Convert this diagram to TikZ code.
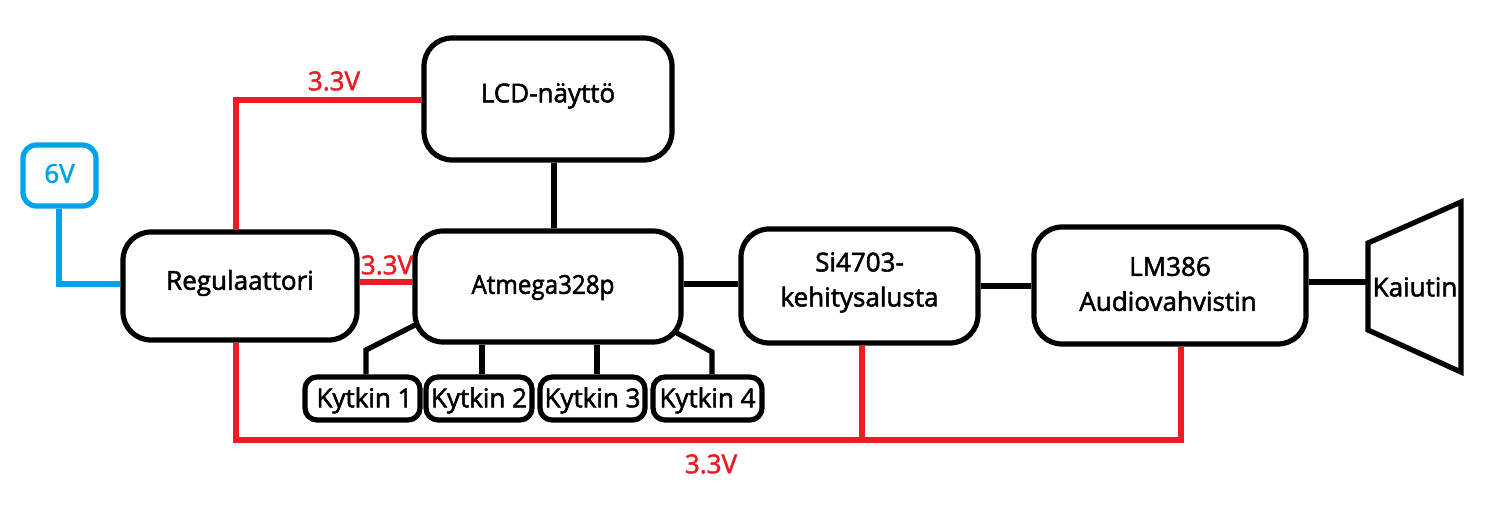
\documentclass[tikz,border=0pt]{standalone}
\usepackage{fontspec}
\setmainfont[FakeBold=2]{Open Sans}
\newcommand{\up}[2]{\raisebox{#1pt}[\height][\depth]{#2}}
\tikzset{
  x=0.75pt,y=-0.75pt,
  wire/.style={line width=3.9pt,line join=miter},
  redwire/.style={wire,draw=myred},
  bluewire/.style={wire,draw=myblue},
  blackwire/.style={wire,draw=black},
  blockbox/.style={draw=black,line width=3.9pt,rounded corners=21pt,inner sep=0pt,align=center,font=\fontsize{19.5}{27}\selectfont,minimum width=#1},
  lbl/.style={inner sep=0pt,font=\fontsize{19.5}{22}\selectfont},
}
\definecolor{myred}{HTML}{ED1C24}
\definecolor{myblue}{HTML}{00A2E8}
\begin{document}
\begin{tikzpicture}
\useasboundingbox (0,0) rectangle (1496,510);
\node[blockbox=186.0pt,minimum height=91.5pt] (lcd) at (548,99) {\up{2.25}{LCD-näyttö}};
\node[blockbox=175.5pt,minimum height=81pt] (reg) at (240,286) {\up{2.25}{Regulaattori}};
\node[blockbox=199.5pt,minimum height=83.25pt] (atm) at (548,286.5) {\up{-0.75}{\hspace{-7.5pt}\scalebox{0.93}[1]{Atmega328p}}};
\node[blockbox=177.75pt,minimum height=85.5pt] (si) at (859.5,286) {\up{2.25}{Si4703-}\\\up{3}{kehitysalusta}};
\node[blockbox=204pt,minimum height=87.75pt] (lm) at (1170,285.5) {\up{0.75}{LM386}\\\up{1.5}{\hspace{-3pt}Audiovahvistin}};
\node[blockbox=54.75pt,minimum height=45.75pt,draw=myblue,text=myblue,rounded corners=10pt] (six) at (59.5,175.5) {\up{1.5}{6V}};
\node[blockbox=86.25pt,minimum height=32.25pt,rounded corners=9pt] (k1) at (362.5,398.5) {\up{-1.5}{\hspace{3pt}Kytkin 1}};
\node[blockbox=79.5pt,minimum height=32.25pt,rounded corners=9pt] (k2) at (479,398.5) {\up{-1.5}{Kytkin 2}};
\node[blockbox=78.75pt,minimum height=32.25pt,rounded corners=9pt] (k3) at (592.5,398.5) {\up{-1.5}{Kytkin 3}};
\node[blockbox=81.75pt,minimum height=32.25pt,rounded corners=9pt] (k4) at (707.5,398.5) {\up{-1.5}{Kytkin 4}};
\coordinate (sp1) at (1368,243);
\coordinate (sp2) at (1461,202);
\coordinate (sp3) at (1461,372);
\coordinate (sp4) at (1368,330);
\draw[blackwire] (sp1) -- (sp2) -- (sp3) -- (sp4) -- cycle;
\node[lbl] (kai) at (1415,287) {Kaiutin};
\node[lbl,text=myred] (l1) at (334,81) {3.3V};
\node[lbl,text=myred] (l2) at (387,265) {3.3V};
\node[lbl,text=myred] (l3) at (711,464) {3.3V};
\coordinate (bl) at (236,440);
\coordinate (tl) at (236,100);
\coordinate (bm) at (862,440);
\coordinate (br) at (1181,440);
\coordinate (sixb) at (59,284);
\draw[bluewire] (six.south -| sixb) -- (sixb) -- (sixb -| reg.west);
\draw[redwire] (reg.north -| tl) -- (tl) -- (tl -| lcd.west);
\draw[redwire] (reg.east |- 0,282) -- (atm.west |- 0,282);
\draw[redwire] (reg.south -| bl) -- (bl) -- (br) -- (lm.south -| br);
\draw[redwire] (si.south -| bm) -- (bm);
\draw[blackwire] (lcd.south -| 554,0) -- (atm.north -| 554,0);
\draw[blackwire] (atm.east |- 0,284) -- (si.west |- 0,284);
\draw[blackwire] (si.east |- 0,286) -- (lm.west |- 0,286);
\draw[blackwire] (lm.east |- 0,282) -- (sp1 |- 0,282);
\coordinate (a1) at (415,325);
\coordinate (b1) at (366,350);
\coordinate (a4) at (675,332);
\coordinate (b4) at (712,352);
\draw[blackwire] (a1) -- (b1) -- (k1.north -| b1);
\draw[blackwire] (atm.south -| 482,0) -- (k2.north -| 482,0);
\draw[blackwire] (atm.south -| 597,0) -- (k3.north -| 597,0);
\draw[blackwire] (a4) -- (b4) -- (k4.north -| b4);
\end{tikzpicture}
\end{document}
